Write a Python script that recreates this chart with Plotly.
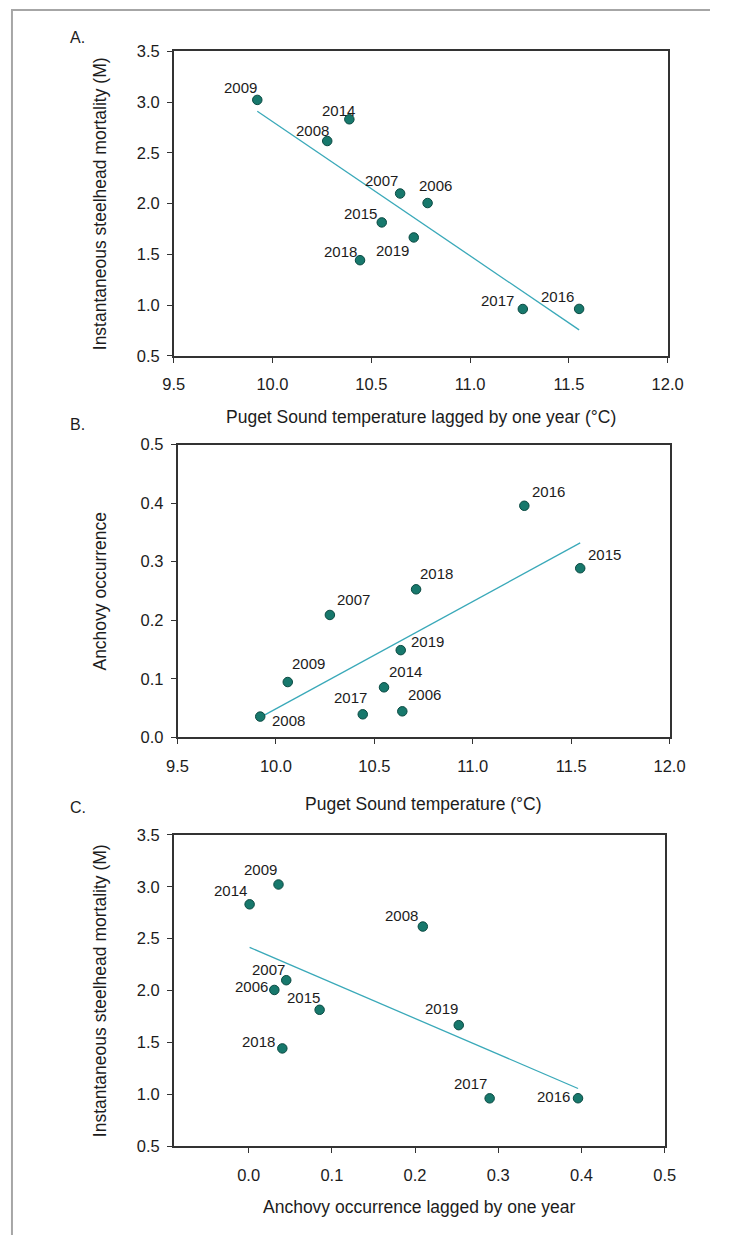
import numpy as np
import plotly.graph_objects as go

# ---- data -------------------------------------------------------------
years = [2006, 2007, 2008, 2009, 2014, 2015, 2016, 2017, 2018, 2019]

# Panel A: lagged temperature vs steelhead mortality
temp_lagged = [10.785, 10.646, 10.277, 9.923, 10.389, 10.553, 11.552, 11.267, 10.443, 10.715]
mortality = [2.006, 2.100, 2.617, 3.022, 2.831, 1.815, 0.963, 0.962, 1.443, 1.667]

# Panel B: temperature vs anchovy occurrence
temp = [10.642, 10.274, 9.920, 10.060, 10.549, 11.546, 11.262, 10.441, 10.712, 10.634]
anchovy = [0.0444, 0.2090, 0.0354, 0.0944, 0.0854, 0.2888, 0.3955, 0.0393, 0.2528, 0.1489]

# Panel C: lagged anchovy occurrence vs steelhead mortality
anchovy_lagged = [0.0309, 0.0452, 0.2093, 0.0359, 0.0012, 0.0853, 0.3958, 0.2896, 0.0405, 0.2525]

# ---- label offsets (px) for the year labels ---------------------------
offs_A = {2006: (8, 18), 2007: (-19, 13), 2008: (-15, 11), 2009: (-17, 12), 2014: (-11, 9),
          2015: (-21, 9), 2016: (-22, 12), 2017: (-25, 9), 2018: (-20, 9), 2019: (-21, -13)}
offs_B = {2006: (22, 17), 2007: (24, 15), 2008: (28, -4), 2009: (21, 19), 2014: (21, 16),
          2015: (24, 14), 2016: (24, 14), 2017: (-12, 17), 2018: (20, 16), 2019: (27, 9)}
offs_C = {2006: (-23, 3), 2007: (-18, 11), 2008: (-21, 11), 2009: (-18, 15), 2014: (-19, 14),
          2015: (-16, 12), 2016: (-25, 2), 2017: (-19, 15), 2018: (-24, 7), 2019: (-17, 17)}

# The page keeps the browser's default 8 px body margin, so the figure is
# sized to fit inside it and layout positions below are given in page pixels.
PAGE_W, PAGE_H = 742, 1260
INSET = 8
W, H = PAGE_W - 2 * INSET, PAGE_H - 2 * INSET

FONT = "Liberation Sans, Arial, sans-serif"
TXT = "#1c1c1c"
AXC = "#333333"
DOT = "#17786c"
DOT_EDGE = "#0b4a42"
FIT = "#3aa9b9"


def fx_(v):
    """page x (px) -> paper x"""
    return (v - INSET) / W


def fy_(v):
    """page y (px, from top) -> paper y"""
    return 1 - (v - INSET) / H


panels = [
    dict(x=temp_lagged, y=mortality, offs=offs_A, dom_x=(177, 690), dom_y=(51, 360),
         xr=[9.5, 12.0], xt=[9.5, 10.0, 10.5, 11.0, 11.5, 12.0], yr=[0.5, 3.5],
         yt=[0.5, 1.0, 1.5, 2.0, 2.5, 3.0, 3.5], tag="A.", tag_y=37,
         xtitle="Puget Sound temperature lagged by one year (°C)", xtitle_y=422,
         ytitle="Instantaneous steelhead mortality (M)"),
    dict(x=temp, y=anchovy, offs=offs_B, dom_x=(181, 692), dom_y=(450, 747),
         xr=[9.5, 12.0], xt=[9.5, 10.0, 10.5, 11.0, 11.5, 12.0], yr=[0.0, 0.5],
         yt=[0.0, 0.1, 0.2, 0.3, 0.4, 0.5], tag="B.", tag_y=430,
         xtitle="Puget Sound temperature (°C)", xtitle_y=815,
         ytitle="Anchovy occurrence"),
    dict(x=anchovy_lagged, y=mortality, offs=offs_C, dom_x=(177, 687), dom_y=(846, 1162),
         xr=[-0.09, 0.5], xt=[0.0, 0.1, 0.2, 0.3, 0.4, 0.5], yr=[0.5, 3.5],
         yt=[0.5, 1.0, 1.5, 2.0, 2.5, 3.0, 3.5], tag="C.", tag_y=818,
         xtitle="Anchovy occurrence lagged by one year", xtitle_y=1224,
         ytitle="Instantaneous steelhead mortality (M)"),
]

fig = go.Figure()
annotations = []
layout_axes = {}

for i, p in enumerate(panels, start=1):
    xa = "x" if i == 1 else f"x{i}"
    ya = "y" if i == 1 else f"y{i}"
    xkey = "xaxis" if i == 1 else f"xaxis{i}"
    ykey = "yaxis" if i == 1 else f"yaxis{i}"

    xs = np.array(p["x"], dtype=float)
    ys = np.array(p["y"], dtype=float)
    slope, icpt = np.polyfit(xs, ys, 1)
    fit_x = np.array([xs.min(), xs.max()])

    fig.add_trace(go.Scatter(x=fit_x, y=slope * fit_x + icpt, mode="lines",
                             line=dict(color=FIT, width=1.3), xaxis=xa, yaxis=ya,
                             hoverinfo="skip", showlegend=False))
    fig.add_trace(go.Scatter(x=xs, y=ys, mode="markers", xaxis=xa, yaxis=ya,
                             marker=dict(size=9.5, color=DOT, line=dict(color=DOT_EDGE, width=1)),
                             text=[str(yr) for yr in years], showlegend=False))

    for yr, xv, yv in zip(years, xs, ys):
        dx, dy = p["offs"][yr]
        annotations.append(dict(x=xv, y=yv, xref=xa, yref=ya, text=str(yr), showarrow=False,
                                xshift=dx, yshift=dy, font=dict(family=FONT, size=15, color=TXT)))

    x0, x1 = p["dom_x"]
    y0, y1 = p["dom_y"]
    common = dict(showline=True, linecolor=AXC, linewidth=1.5, mirror=True, ticks="outside",
                  ticklen=5, tickwidth=1.2, tickcolor=AXC, showgrid=False, zeroline=False,
                  tickfont=dict(family=FONT, size=16.5, color=TXT), fixedrange=True)
    layout_axes[xkey] = dict(common, domain=[fx_(x0), fx_(x1)], range=p["xr"],
                             tickmode="array", tickvals=p["xt"],
                             ticktext=[f"{v:.1f}" for v in p["xt"]], anchor=ya,
                             ticklabelstandoff=8)
    layout_axes[ykey] = dict(common, domain=[fy_(y1), fy_(y0)], range=p["yr"],
                             tickmode="array", tickvals=p["yt"],
                             ticktext=[f"{v:.1f}" for v in p["yt"]], anchor=xa,
                             ticklabelstandoff=4)

    # panel tag, axis titles
    annotations.append(dict(x=fx_(67), y=fy_(p["tag_y"]), xref="paper", yref="paper",
                            text=p["tag"], showarrow=False, xanchor="left", yanchor="middle",
                            font=dict(family=FONT, size=16, color=TXT)))
    annotations.append(dict(x=fx_((x0 + x1) / 2), y=fy_(p["xtitle_y"]), xref="paper",
                            yref="paper", text=p["xtitle"], showarrow=False,
                            xanchor="center", yanchor="middle",
                            font=dict(family=FONT, size=17.5, color=TXT)))
    annotations.append(dict(x=fx_(100), y=fy_((y0 + y1) / 2), xref="paper",
                            yref="paper", text=p["ytitle"], showarrow=False, textangle=-90,
                            xanchor="center", yanchor="middle",
                            font=dict(family=FONT, size=17.5, color=TXT)))

# thin grey frame along the top and left edges
shapes = [
    dict(type="line", xref="paper", yref="paper", x0=0.0, x1=1.0,
         y0=fy_(9), y1=fy_(9), line=dict(color="#a6a6a6", width=2)),
    dict(type="line", xref="paper", yref="paper", x0=fx_(9), x1=fx_(9),
         y0=0.0, y1=fy_(9), line=dict(color="#a6a6a6", width=2)),
]

fig.update_layout(width=W, height=H, margin=dict(l=0, r=0, t=0, b=0),
                  paper_bgcolor="white", plot_bgcolor="white",
                  annotations=annotations, shapes=shapes, showlegend=False,
                  **layout_axes)

fig.write_html("out.html")
